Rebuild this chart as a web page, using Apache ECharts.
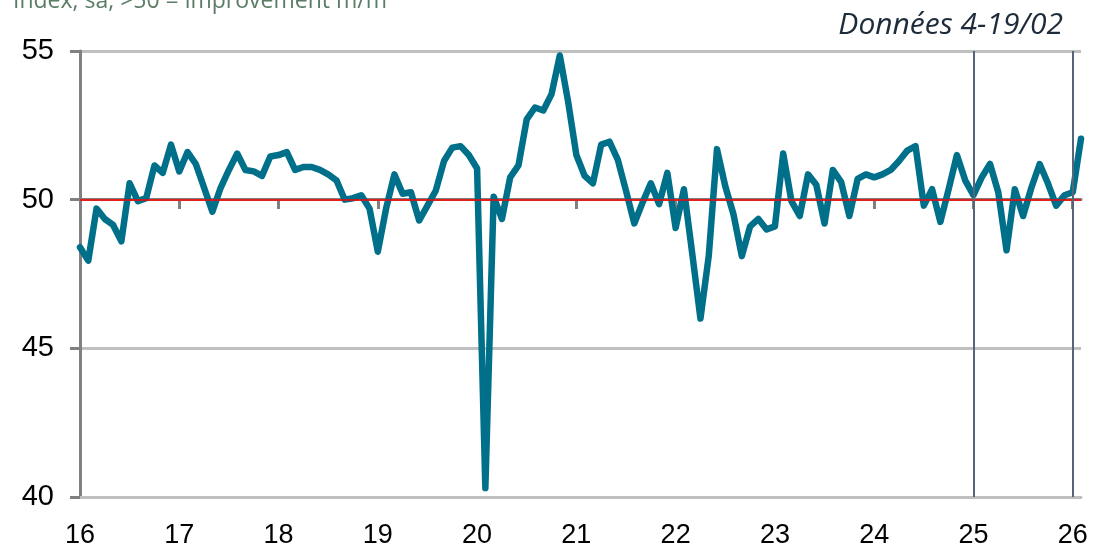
<!DOCTYPE html>
<html>
<head>
<meta charset="utf-8">
<script src="https://cdn.jsdelivr.net/npm/echarts@6/dist/echarts.min.js"></script>
<style>
  html, body { margin: 0; padding: 0; background: #fff; }
  #chart { width: 1094px; height: 549px; }
</style>
</head>
<body>
<div id="chart"></div>
<script>
// mois de janv. 2016 a fevr. 2026
var months = [];
for (var y = 2016; y <= 2026; y++) {
    for (var m = 1; m <= 12; m++) {
        if (y === 2026 && m > 2) break;
        months.push(y + '-' + (m < 10 ? '0' + m : m));
    }
}
var yearLabels = ['16', '17', '18', '19', '20', '21', '22', '23', '24', '25', '26'];
var yTicks = [40, 45, 50, 55];
var refMonths = ['2025-01', '2026-01'];

var pmi = [
    // 2016
    48.4, 47.95, 49.7, 49.35, 49.15, 48.6, 50.55, 49.95, 50.05, 51.15, 50.9, 51.85,
    // 2017
    50.95, 51.6, 51.2, 50.4, 49.6, 50.4, 51.0, 51.55, 51.0, 50.95, 50.8, 51.45,
    // 2018
    51.5, 51.6, 51.0, 51.1, 51.1, 51.0, 50.85, 50.65, 50.0, 50.05, 50.15, 49.7,
    // 2019
    48.25, 49.7, 50.85, 50.2, 50.25, 49.3, 49.8, 50.3, 51.3, 51.75, 51.8, 51.5,
    // 2020
    51.05, 40.3, 50.1, 49.35, 50.75, 51.15, 52.7, 53.1, 53.0, 53.55, 54.85, 53.3,
    // 2021
    51.5, 50.8, 50.55, 51.85, 51.95, 51.35, 50.3, 49.2, 49.9, 50.55, 49.85, 50.9,
    // 2022
    49.05, 50.35, 48.2, 46.0, 48.1, 51.7, 50.45, 49.5, 48.1, 49.1, 49.35, 49.0,
    // 2023
    49.1, 51.55, 49.95, 49.45, 50.85, 50.5, 49.2, 51.0, 50.6, 49.45, 50.7, 50.85,
    // 2024
    50.75, 50.85, 51.0, 51.3, 51.65, 51.8, 49.8, 50.35, 49.25, 50.35, 51.5, 50.65,
    // 2025
    50.15, 50.75, 51.2, 50.25, 48.3, 50.35, 49.45, 50.4, 51.2, 50.55, 49.8, 50.15,
    // 2026
    50.25, 52.05
];

var isJan = function (index) { return index % 12 === 0; };

var myChart = echarts.init(document.getElementById('chart'));
var option = {
    animation: false,
    title: [{
        text: 'Index, sa, >50 = improvement m/m',
        left: 8,
        top: -15,
        textStyle: { fontFamily: 'Open Sans', fontSize: 23, fontWeight: 'normal', color: '#5b7d66' }
    }, {
        text: 'Données 4-19/02',
        right: 26,
        top: 5,
        textStyle: { fontFamily: 'Open Sans', fontSize: 30, fontStyle: 'italic', fontWeight: 'normal', color: '#1d2b3a' }
    }],
    grid: [
        { left: 80, right: 13, top: 51, bottom: 52 },
        { left: 80, right: 13, top: 198, height: 1 }
    ],
    xAxis: [{
        type: 'category',
        data: months,
        boundaryGap: false,
        axisLine: { show: true, lineStyle: { color: '#bfbfbf', width: 3 } },
        axisTick: { show: false },
        axisLabel: {
            interval: isJan,
            formatter: function (v, i) { return yearLabels[Math.floor(i / 12)]; },
            fontFamily: 'Liberation Sans Narrow, Liberation Sans, Arial',
            fontSize: 27,
            color: '#000',
            margin: 25
        },
        splitLine: { show: false }
    }, {
        // axe des abscisses a 50
        type: 'category',
        gridIndex: 1,
        data: months,
        boundaryGap: false,
        axisLine: { show: true, lineStyle: { color: '#808080', width: 3 } },
        axisTick: { show: true, interval: isJan, length: 10, lineStyle: { color: '#808080', width: 3 } },
        axisLabel: { show: false },
        splitLine: { show: false }
    }],
    yAxis: [{
        type: 'value',
        min: yTicks[0],
        max: yTicks[yTicks.length - 1],
        interval: 5,
        axisLine: { show: true, lineStyle: { color: '#808080', width: 3 } },
        axisTick: { show: true, length: 10, lineStyle: { color: '#808080', width: 3 } },
        axisLabel: {
            fontFamily: 'Liberation Sans Narrow, Liberation Sans, Arial',
            fontSize: 29,
            color: '#000',
            margin: 26
        },
        splitLine: { show: true, lineStyle: { color: '#bfbfbf', width: 3 } }
    }, {
        type: 'value',
        gridIndex: 1,
        show: false
    }],
    series: [{
        type: 'line',
        data: pmi,
        symbol: 'none',
        lineStyle: { color: '#006f89', width: 6.5, join: 'round', cap: 'round' },
        markLine: {
            silent: true,
            symbol: 'none',
            label: { show: false },
            data: [
                { yAxis: 50, lineStyle: { color: '#ff0000', width: 1.5, type: 'solid' } },
                { xAxis: refMonths[0], lineStyle: { color: '#56657a', width: 2, type: 'solid' } },
                { xAxis: refMonths[1], lineStyle: { color: '#56657a', width: 2, type: 'solid' } }
            ]
        }
    }]
};
myChart.setOption(option);
</script>
</body>
</html>
